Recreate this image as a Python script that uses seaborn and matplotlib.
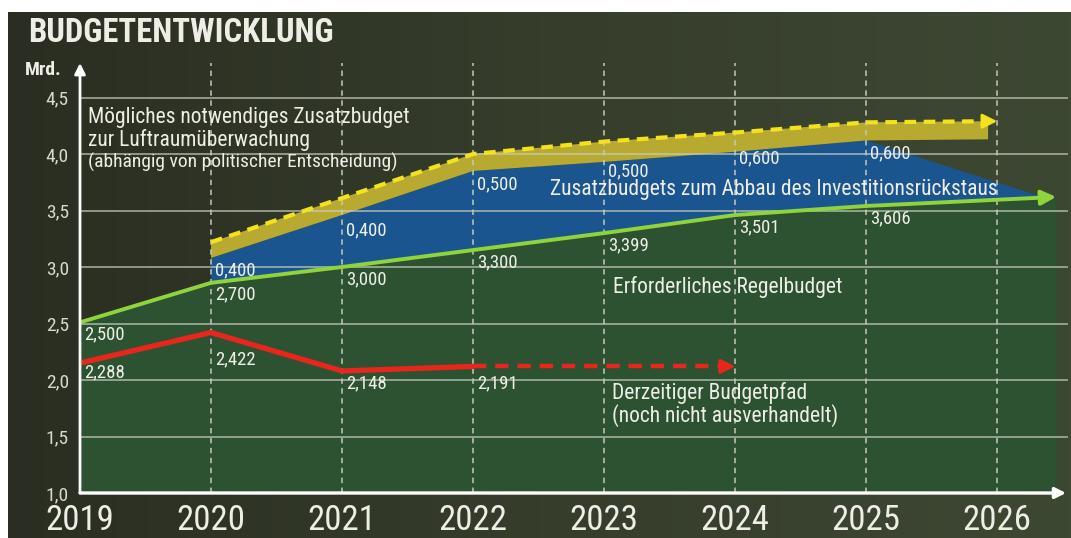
import numpy as np
import matplotlib
matplotlib.use("Agg")
import matplotlib.pyplot as plt
import seaborn as sns
from matplotlib import font_manager
from matplotlib.colors import LinearSegmentedColormap

# ── data ──────────────────────────────────────────────────────────────────
axis_years = [2019, 2020, 2021, 2022, 2023, 2024, 2025, 2026]
y_ticks = [1.0, 1.5, 2.0, 2.5, 3.0, 3.5, 4.0, 4.5]
y_tick_labels = ["1,0", "1,5", "2,0", "2,5", "3,0", "3,5", "4,0", "4,5"]

# Erforderliches Regelbudget (green line, last point = arrow tip)
regel_x = [2019, 2020, 2021, 2022, 2023, 2024, 2025, 2026.45]
regel_y = [2.51, 2.86, 3.00, 3.15, 3.30, 3.46, 3.54, 3.62]
regel_labels = ["2,500", "2,700", "3,000", "3,300", "3,399", "3,501", "3,606"]

# Zusatzbudgets Investitionsrückstau (blue band top edge)
invest_x = [2020, 2021, 2022, 2023, 2024, 2025, 2026.37]
invest_top = [3.08, 3.46, 3.85, 3.93, 4.02, 4.12, 3.61]
invest_labels = ["0,400", "0,400", "0,500", "0,500", "0,600", "0,600"]

# Luftraumüberwachung (yellow band, dashed top edge)
luft_x = [2020, 2021, 2022, 2023, 2024, 2025, 2025.93]
luft_top = [3.22, 3.61, 4.00, 4.11, 4.19, 4.28, 4.29]
luft_bottom_end = 4.13
luft_arrow_x = 2026.0

# Derzeitiger Budgetpfad (red line)
budget_x = [2019, 2020, 2021, 2022]
budget_y = [2.15, 2.42, 2.08, 2.12]
budget_labels = ["2,288", "2,422", "2,148", "2,191"]
budget_future_x = [2022, 2024]
budget_future_y = [2.12, 2.12]

# ── style ────────────────────────────────────────────────────────────────
sns.set_theme(style="dark")
names = {f.name for f in font_manager.fontManager.ttflist}
cond = next((n for n in ["Liberation Sans Narrow", "Roboto Condensed",
                         "Open Sans Condensed", "DejaVu Sans Condensed"]
             if n in names), "DejaVu Sans")
plt.rcParams["font.family"] = [cond, "DejaVu Sans"]

TXT = "#eeeee6"
GREEN_FILL = "#2d5232"
BLUE = "#1a5590"
YELLOW_FILL = "#b8aa30"
YELLOW = "#f4e21e"
LGREEN = "#8fd43a"
RED = "#e8261c"

fig = plt.figure(figsize=(10.71, 5.38), dpi=100, facecolor="white")

# dark olive background (leaves the thin white frame top/left)
bg = fig.add_axes([8 / 1071, 0, 1 - 8 / 1071, 1 - 12 / 538], zorder=0)
cmap = LinearSegmentedColormap.from_list("bg", ["#2a2e22", "#363d2b", "#3d4833"])
bg.imshow(np.linspace(0, 1, 256)[None, :], aspect="auto", cmap=cmap,
          extent=[0, 1, 0, 1])
bg.set_axis_off()

ax = fig.add_axes([80 / 1071, 45 / 538, 988 / 1071, 430 / 538], zorder=1)
ax.set_facecolor("none")
ax.set_xlim(2019, 2026.54)
ax.set_ylim(1.0, 1 + 430 / 113)
for s in ax.spines.values():
    s.set_visible(False)

# grid
for v in y_ticks[1:]:
    ax.axhline(v, color="#c9cdbf", lw=1.3, alpha=0.7, zorder=3)
for yr in axis_years[1:]:
    ax.axvline(yr, color="#c4c8bb", lw=1.3, ls=(0, (3, 2.5)), alpha=0.85, zorder=4)

# green area under Regelbudget
ax.fill_between(regel_x, 1.0, regel_y, color=GREEN_FILL, lw=0, zorder=1)

# blue band: top edge, then back along the green line
ax.fill(invest_x + regel_x[1:7][::-1], invest_top + regel_y[1:7][::-1],
        color=BLUE, lw=0, zorder=2)

# yellow band: dashed top edge, then back along the blue top
ax.fill(luft_x + [luft_x[-1]] + invest_x[:6][::-1],
        luft_top + [luft_bottom_end] + invest_top[:6][::-1],
        color=YELLOW_FILL, lw=0, zorder=2)

# lines
sns.lineplot(x=regel_x[:-1], y=regel_y[:-1], ax=ax, color=LGREEN, lw=2.8,
             sort=False, zorder=6)
ax.annotate("", xy=(regel_x[-1], regel_y[-1]), xytext=(regel_x[-2], regel_y[-2]),
            arrowprops=dict(arrowstyle="-|>", color=LGREEN, lw=2.8,
                            mutation_scale=22, shrinkA=0, shrinkB=0), zorder=6)

sns.lineplot(x=luft_x[:-1] + [luft_arrow_x - 0.08],
             y=luft_top[:-1] + [luft_top[-1]], ax=ax, color=YELLOW, lw=3,
             ls=(0, (2.8, 1.8)), sort=False, zorder=6)
ax.annotate("", xy=(luft_arrow_x, luft_top[-1]),
            xytext=(luft_arrow_x - 0.1, luft_top[-1]),
            arrowprops=dict(arrowstyle="-|>", color=YELLOW, lw=2,
                            mutation_scale=22, shrinkA=0, shrinkB=0), zorder=6)

sns.lineplot(x=budget_x, y=budget_y, ax=ax, color=RED, lw=3.8, sort=False,
             zorder=6)
sns.lineplot(x=[budget_future_x[0], budget_future_x[1] - 0.08], y=budget_future_y,
             ax=ax, color=RED, lw=3.2, ls=(0, (3, 2)), sort=False, zorder=6)
ax.annotate("", xy=(budget_future_x[1], budget_future_y[1]),
            xytext=(budget_future_x[1] - 0.1, budget_future_y[1]),
            arrowprops=dict(arrowstyle="-|>", color=RED, lw=2,
                            mutation_scale=22, shrinkA=0, shrinkB=0), zorder=6)

# value labels
lab_kw = dict(textcoords="offset pixels", fontsize=13.5, color=TXT,
              ha="left", va="center", zorder=8)
for x, y, t in zip(regel_x, regel_y, regel_labels):
    ax.annotate(t, (x, y), xytext=(4, -12), **lab_kw)
blue_dy = [-12, -15, -13, -9, -7, -13]
for x, y, t, dy in zip(invest_x, invest_top, invest_labels, blue_dy):
    ax.annotate(t, (x, y), xytext=(4, dy), **lab_kw)
red_dy = [-9, -27, -12, -17]
for x, y, t, dy in zip(budget_x, budget_y, budget_labels, red_dy):
    ax.annotate(t, (x, y), xytext=(4, dy), **lab_kw)

# annotations
big = 15.5
ax.text(2019.06, 4.32, "Mögliches notwendiges Zusatzbudget", fontsize=big,
        color=TXT, va="center", zorder=8)
ax.text(2019.06, 4.125, "zur Luftraumüberwachung", fontsize=big,
        color=TXT, va="center", zorder=8)
ax.text(2019.06, 3.93, "(abhängig von politischer Entscheidung)", fontsize=14,
        color=TXT, va="center", zorder=8)
ax.text(2022.59, 3.69, "Zusatzbudgets zum Abbau des Investitionsrückstaus",
        fontsize=big, color=TXT, va="center", zorder=8)
ax.text(2023.07, 2.82, "Erforderliches Regelbudget", fontsize=big,
        color=TXT, va="center", zorder=8)
ax.text(2023.06, 1.885, "Derzeitiger Budgetpfad", fontsize=big,
        color=TXT, va="center", zorder=8)
ax.text(2023.06, 1.69, "(noch nicht ausverhandelt)", fontsize=big,
        color=TXT, va="center", zorder=8)

# axes with arrows
ax.annotate("", xy=(0, 1.0), xytext=(0, 0), xycoords="axes fraction",
            arrowprops=dict(arrowstyle="-|>", color="white", lw=2,
                            mutation_scale=16, shrinkA=0, shrinkB=0), zorder=9)
ax.annotate("", xy=(0.998, 0), xytext=(0, 0), xycoords="axes fraction",
            arrowprops=dict(arrowstyle="-|>", color="white", lw=2.4,
                            mutation_scale=16, shrinkA=0, shrinkB=0), zorder=9)

ax.set_xticks(axis_years)
ax.set_xticklabels([str(y) for y in axis_years], fontsize=25, color=TXT)
ax.set_yticks(y_ticks)
ax.set_yticklabels(y_tick_labels, fontsize=14, color="#d8d8cc")
ax.tick_params(axis="x", length=0, pad=8)
ax.tick_params(axis="y", length=0, pad=8)
ax.grid(False)

fig.text(28 / 1071, 1 - 33 / 538, "BUDGETENTWICKLUNG", fontsize=23.5,
         fontweight="bold", color=TXT, va="center")
fig.text(25 / 1071, 1 - 70 / 538, "Mrd.", fontsize=14, fontweight="bold",
         color=TXT, va="center")

fig.savefig("out.png", dpi=100, facecolor=fig.get_facecolor())
